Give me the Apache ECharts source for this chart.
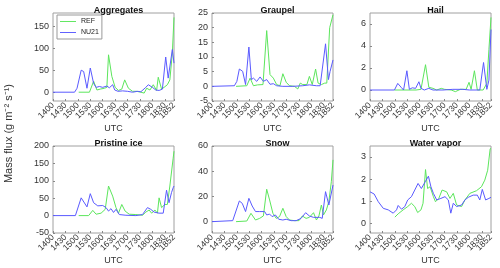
<!DOCTYPE html>
<html><head><meta charset="utf-8">
<script src="https://cdn.jsdelivr.net/npm/echarts@6/dist/echarts.min.js"></script>
<style>html,body{margin:0;padding:0;background:#fff}#c{width:500px;height:268px}</style>
</head><body><div id="c"></div>
<script>
// time in minutes after 14:00 UTC
const timeTicks = [0,30,60,90,120,150,180,210,240,270,292];
const timeLabels = ['1400','1430','1500','1530','1600','1630','1700','1730','1800','1830','1852'];
const seriesNames = ['REF','NU21'];
const panelTitles = ['Aggregates','Graupel','Hail','Pristine ice','Snow','Water vapor'];
const yTicks = [[0,50,100,150],[-5,0,5,10,15,20,25],[0,2,4,6],[-50,0,50,100,150,200],[0,20,40,60],[0,1,2,3]];
const yRanges = [[-20,180],[-5,25],[-1,7],[-50,200],[-9,60],[-0.45,3.5]];

// [minute, value]
const aggREF = [[62,0],[88,0],[98,25],[106,5],[114,7],[124,9],[130,11],[134,85],[142,36],[150,11],[158,4],[166,7],[173,28],[182,9],[192,2],[202,2],[212,0],[220,-2],[226,9],[234,5],[242,17],[250,4],[254,34],[262,7],[268,11],[276,17],[282,28],[288,89],[292,170]];
const aggNU21 = [[0,0],[52,0],[58,9],[68,50],[74,47],[82,9],[90,55],[98,20],[104,11],[112,13],[120,11],[130,14],[136,10],[144,17],[149,5],[157,2],[168,3],[180,2],[192,0],[204,2],[212,1],[224,11],[230,17],[240,11],[248,5],[256,4],[264,7],[272,80],[278,32],[282,35],[288,97],[292,66]];

const grpREF = [[58,0],[84,0.2],[92,2.8],[100,0.2],[110,0.5],[123,0.6],[132,19],[140,4],[148,2.8],[156,0.6],[164,0.2],[171,4.3],[179,1.4],[187,0.2],[199,0],[207,-0.9],[213,1.1],[219,0.6],[229,0.6],[235,3.4],[242,0.6],[250,5.9],[256,1.1],[264,0.6],[272,1.1],[277,1.1],[284,20],[292,24.4]];
const grpNU21 = [[0,0],[54,0.2],[60,1.7],[66,5.9],[74,5.1],[81,0.6],[89,13.4],[95,2.3],[100,2.8],[108,1.7],[116,3.2],[124,1.7],[132,2.3],[140,0.7],[148,0.9],[156,0.2],[171,0],[195,0],[219,0.2],[235,0.5],[252,0.2],[261,0.2],[274,14.5],[281,2.3],[285,5.1],[292,9]];

const hailREF = [[59,0],[111,0],[123,0.06],[134,2.3],[142,0.25],[152,0.15],[161,0],[172,0.15],[180,0.06],[196,0],[206,-0.15],[218,0.06],[232,0.06],[239,0.7],[244,0.06],[252,1.75],[259,0],[273,0],[282,0.6],[287,3.7],[292,6.6]];
const hailNU21 = [[0,0],[59,0],[67,0.6],[75,0.25],[81,0],[89,1.75],[95,0.06],[102,0.2],[110,0.15],[118,0.75],[123,0.15],[131,0],[142,0.15],[152,0],[176,0],[200,0.06],[224,0.06],[240,0],[265,0],[274,2.5],[282,0.06],[287,0.9],[292,5.5]];

const iceREF = [[62,0],[86,0],[96,15],[104,4],[116,7],[126,18],[134,85],[144,56],[152,23],[158,7],[166,32],[174,13],[184,4],[200,3],[216,1],[224,10],[232,16],[238,7],[246,16],[252,7],[256,51],[262,23],[270,32],[276,32],[282,85],[290,165],[292,185]];
const iceNU21 = [[0,0],[54,0],[68,51],[82,25],[90,63],[98,37],[108,28],[120,29],[128,23],[134,13],[140,20],[146,9],[152,18],[160,3],[176,1],[200,0],[216,3],[228,23],[236,18],[244,10],[256,7],[266,7],[274,73],[280,37],[286,66],[290,80],[292,85]];

const snowREF = [[58,0],[84,0.5],[94,6.6],[105,1.3],[115,2.6],[124,4.5],[132,25.7],[139,17.2],[147,6.6],[155,2.6],[163,4],[171,10.6],[179,4],[187,1.3],[199,0.8],[210,0.8],[218,4.5],[227,2.6],[235,3.4],[245,7.1],[252,1.3],[258,4.5],[264,13.2],[269,5.3],[276,9.3],[282,15.9],[288,31.7],[292,49]];
const snowNU21 = [[0,0],[50,0.8],[54,0.8],[66,16.4],[73,14.5],[81,8],[89,18.5],[97,12.4],[105,8],[115,8],[127,8],[132,5.3],[139,6],[145,4],[153,5.3],[161,1.9],[171,1.3],[179,1.9],[191,0.8],[203,0.8],[215,2.6],[226,7.1],[235,4.5],[245,3.4],[260,3.4],[266,2.6],[274,23.8],[282,13.2],[292,29]];

const vapREF = [[60,0.27],[68,0.42],[80,0.6],[91,0.75],[100,0.9],[108,0.75],[115,0.48],[123,0.6],[128,0.9],[134,2.43],[139,1.57],[145,1.65],[153,1.2],[158,0.97],[166,1.12],[174,1.5],[185,1.42],[193,1.12],[201,1.35],[209,0.82],[221,0.75],[229,1.05],[241,1.35],[257,1.47],[269,1.65],[277,1.95],[284,2.4],[290,3.37],[292,3.4]];
const vapNU21 = [[0,1.42],[10,1.32],[20,0.97],[32,0.67],[44,0.6],[56,0.45],[64,0.6],[68,0.8],[76,0.63],[84,0.75],[91,1.05],[100,1.2],[108,1.5],[116,1.8],[124,1.57],[133,1.87],[141,2.13],[147,1.65],[153,1.35],[161,1.05],[171,1.12],[181,1.2],[189,1.05],[195,0.45],[201,0.9],[209,0.75],[221,0.82],[229,1.05],[237,1.17],[249,1.27],[259,1.27],[265,1.05],[271,1.53],[279,1.05],[287,1.12],[290,1.17],[292,1.17]];

const panelREF = [aggREF, grpREF, hailREF, iceREF, snowREF, vapREF];
const panelNU21 = [aggNU21, grpNU21, hailNU21, iceNU21, snowNU21, vapNU21];

const colREF = '#5ce65c', colNU = '#5a5aff';
const FONT = 'Liberation Sans, Arial, sans-serif';
const lefts = [53, 212, 370], tops = [13, 146], W = 121;

const labelFmt = v => { const k = timeTicks.indexOf(v); return k >= 0 ? timeLabels[k] : ''; };
// split the time labels over three axes so ECharts never hides a neighbouring label
const n = timeTicks.length;
const labelGroups = [
  timeTicks.filter((t, k) => k < n - 1 && k % 2 === 0),
  timeTicks.filter((t, k) => k < n - 1 && k % 2 === 1),
  timeTicks.slice(n - 1)
];
const grids = [], xAxes = [], yAxes = [], titles = [], series = [];
for (let i = 0; i < 6; i++) {
  const c = i % 3, r = Math.floor(i / 3);
  grids.push({left: lefts[c], top: tops[r], width: W, height: r ? 87 : 88, show: true, borderColor: '#a0a0a0', borderWidth: 1, backgroundColor: '#fff'});
  yAxes.push({
    type: 'value', gridIndex: i, min: yRanges[i][0], max: yRanges[i][1],
    axisLine: {show: false, onZero: false}, splitLine: {show: false},
    axisTick: {show: true, inside: true, length: 2, lineStyle: {color: '#888'}, customValues: yTicks[i]},
    axisLabel: {customValues: yTicks[i], fontSize: 9, color: '#333', margin: 4, fontFamily: FONT,
      showMinLabel: true, showMaxLabel: true, hideOverlap: false}
  });
  titles.push({text: panelTitles[i], left: lefts[c] + W / 2, top: tops[r] - 12, textAlign: 'center',
    textStyle: {fontSize: 9, fontWeight: 'bold', color: '#111', fontFamily: FONT}});
  series.push({name: 'REF', type: 'line', xAxisIndex: i, yAxisIndex: i, data: panelREF[i], symbol: 'none',
    lineStyle: {width: 1, color: colREF}, itemStyle: {color: colREF}, animation: false});
  series.push({name: 'NU21', type: 'line', xAxisIndex: i, yAxisIndex: i, data: panelNU21[i], symbol: 'none',
    lineStyle: {width: 1, color: colNU}, itemStyle: {color: colNU}, animation: false});
}
labelGroups.forEach((grp, g) => {
  for (let i = 0; i < 6; i++) {
    const ax = {
      type: 'value', gridIndex: i, min: 0, max: 292, position: 'bottom', offset: 0,
      axisLine: {show: false, onZero: false}, splitLine: {show: false},
      axisTick: {show: false},
      axisLabel: {customValues: grp, rotate: 45, fontSize: 8.5, color: '#333', margin: 3, fontFamily: FONT,
        showMinLabel: true, showMaxLabel: true, hideOverlap: false, formatter: labelFmt}
    };
    if (g === 0) {
      ax.name = 'UTC'; ax.nameLocation = 'middle'; ax.nameGap = 22;
      ax.nameTextStyle = {fontSize: 9, color: '#333', fontFamily: FONT};
      ax.axisTick = {show: true, inside: true, length: 2, lineStyle: {color: '#888'}, customValues: timeTicks};
    }
    xAxes.push(ax);
  }
});

const lineIcon = 'path://M0,0 L20,0 L20,1.2 L0,1.2 Z';
const chart = echarts.init(document.getElementById('c'));
chart.setOption({
  animation: false,
  title: titles,
  grid: grids, xAxis: xAxes, yAxis: yAxes, series: series,
  legend: {data: seriesNames.map(s => ({name: s, icon: lineIcon})), orient: 'vertical', left: 57, top: 15,
    itemWidth: 16, itemHeight: 1.2, itemGap: 4,
    padding: [3, 3, 3, 3], backgroundColor: '#fff', borderColor: '#999', borderWidth: 1,
    textStyle: {fontSize: 7, color: '#222', fontFamily: FONT}},
  graphic: [{type: 'text', left: 3, top: 84, rotation: Math.PI / 2,
    style: {text: 'Mass flux (g m\u207B\u00B2 s\u207B\u00B9)', fontSize: 11, fill: '#333', fontFamily: FONT}}]
});
</script></body></html>
